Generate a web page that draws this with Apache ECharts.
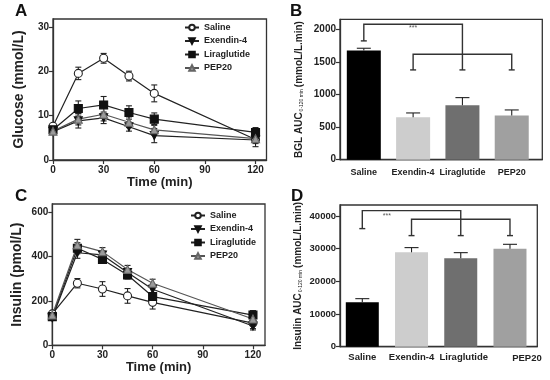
<!DOCTYPE html>
<html>
<head>
<meta charset="utf-8">
<script src="https://cdn.jsdelivr.net/npm/echarts@6/dist/echarts.min.js"></script>
<style>
html,body{margin:0;padding:0;background:#fff;}
#chart{width:550px;height:380px;}
</style>
</head>
<body>
<div id="chart"></div>
<script>
// ---------- DATA ----------
const times = [0, 15, 30, 45, 60, 120];
const timeTicks = [0, 30, 60, 90, 120];
const groups = ['Saline', 'Exendin-4', 'Liraglutide', 'PEP20'];

// Panel A: glucose (mmol/L)
const glucoseSaline = [7.6, 19.5, 22.9, 18.9, 15.0, 4.6];
const glucoseSalineErr = [0.6, 1.4, 1.1, 1.1, 1.9, 1.6];
const glucoseExendin = [6.4, 8.8, 9.5, 7.5, 5.5, 4.5];
const glucoseExendinErr = [0.5, 1.6, 1.3, 1.0, 1.6, 0.8];
const glucoseLira = [6.8, 11.6, 12.4, 10.7, 9.2, 6.2];
const glucoseLiraErr = [0.6, 1.7, 1.9, 1.5, 1.4, 1.1];
const glucosePep = [6.5, 9.2, 10.3, 8.5, 6.8, 4.8];
const glucosePepErr = [0.5, 1.3, 1.5, 1.2, 1.2, 0.8];
const glucoseTicks = [0, 10, 20, 30];

// Panel C: insulin (pmol/L)
const insulinSaline = [141, 279, 253, 222, 193, 100];
const insulinSalineErr = [10, 21, 33, 33, 30, 25];
const insulinExendin = [124, 416, 406, 327, 252, 87];
const insulinExendinErr = [10, 25, 18, 18, 18, 18];
const insulinLira = [129, 436, 386, 316, 219, 136];
const insulinLiraErr = [10, 25, 15, 18, 18, 20];
const insulinPep = [136, 451, 421, 341, 279, 118];
const insulinPepErr = [10, 25, 18, 18, 18, 18];
const insulinTicks = [0, 200, 400, 600];

// Panel B: BGL AUC 0-120 min
const bglAuc = [1674, 650, 834, 676];
const bglAucErr = [35, 67, 118, 87];
const bglTicks = [0, 500, 1000, 1500, 2000];
const sigB = [2078, 1822, 1617, 1377];   // top bracket, saline end, lower bracket, lower ends
const starB = [1, 2015];

// Panel D: insulin AUC 0-120 min
const insAuc = [13570, 28870, 27030, 29990];
const insAucErr = [1120, 1430, 1730, 1320];
const insTicks = [0, 10000, 20000, 30000, 40000];
const sigD = [41620, 36110, 38960, 33970];
const starD = [0.5, 39970];

// ---------- STYLE ----------
const FONT = 'Liberation Sans, Arial, Helvetica, sans-serif';
const INK = '#222';
const AX = '#333';
const barColors = ['#000000', '#cdcdcd', '#6f6f6f', '#a0a0a0'];
const downTri = 'path://M0,0L10,0L5,9Z';
const lineDefs = [
  {name: 'Saline', symbol: 'circle', size: 8, fill: '#ffffff', border: '#222', line: '#222'},
  {name: 'Exendin-4', symbol: downTri, size: 8, fill: '#111', border: '#111', line: '#222'},
  {name: 'Liraglutide', symbol: 'rect', size: 8, fill: '#111', border: '#111', line: '#222'},
  {name: 'PEP20', symbol: 'triangle', size: 8, fill: '#9a9a9a', border: '#666', line: '#555'}
];

function axisLineStyle() { return {show: true, onZero: false, lineStyle: {color: AX, width: 1.3}}; }

function errRender(capHalf, upOnly) {
  return function (params, api) {
    const x = api.value(0), lo = api.value(1), hi = api.value(2);
    const a = api.coord([x, lo]), b = api.coord([x, hi]);
    const st = {stroke: '#222', lineWidth: 1.1};
    const ch = [
      {type: 'line', shape: {x1: a[0], y1: a[1], x2: b[0], y2: b[1]}, style: st},
      {type: 'line', shape: {x1: b[0] - capHalf, y1: b[1], x2: b[0] + capHalf, y2: b[1]}, style: st}
    ];
    if (!upOnly) ch.push({type: 'line', shape: {x1: a[0] - capHalf, y1: a[1], x2: a[0] + capHalf, y2: a[1]}, style: st});
    return {type: 'group', children: ch};
  };
}

function bracketRender(sig, star) {
  return function (params, api) {
    const c = (x, y) => api.coord([x, y]);
    const st = {stroke: '#333', lineWidth: 1.4, fill: null};
    const top = sig[0], sEnd = sig[1], low = sig[2], lEnd = sig[3];
    const pl = (pts) => ({type: 'polyline', shape: {points: pts}, style: st});
    const cap = (p) => ({type: 'line', shape: {x1: p[0] - 3, y1: p[1], x2: p[0] + 3, y2: p[1]}, style: st});
    const s = c(star[0], star[1]);
    return {type: 'group', children: [
      pl([c(0, sEnd), c(0, top), c(2, top), c(2, lEnd)]),
      pl([c(1, lEnd), c(1, low), c(3, low), c(3, lEnd)]),
      cap(c(0, sEnd)), cap(c(1, lEnd)), cap(c(2, lEnd)), cap(c(3, lEnd)),
      {type: 'text', x: s[0], y: s[1], style: {text: '***', fill: '#555', font: '7px ' + FONT, align: 'center', verticalAlign: 'middle'}}
    ]};
  };
}

function lineSeries(def, vals, errs, axisIdx) {
  return [
    {
      type: 'custom', xAxisIndex: axisIdx, yAxisIndex: axisIdx, z: 2,
      renderItem: errRender(3, false), encode: {x: 0, y: [1, 2]}, silent: true,
      data: times.map((t, i) => [t, vals[i] - errs[i], vals[i] + errs[i]])
    },
    {
      type: 'line', name: def.name, xAxisIndex: axisIdx, yAxisIndex: axisIdx, z: 3,
      data: times.map((t, i) => [t, vals[i]]),
      symbol: def.symbol, symbolSize: def.size, showAllSymbol: true,
      lineStyle: {color: def.line, width: 1.2},
      itemStyle: {color: def.fill, borderColor: def.border, borderWidth: 1.1, opacity: 1},
      emphasis: {disabled: true}, animation: false
    }
  ];
}

function barSeries(vals, errs, axisIdx, sig, star, bw) {
  return [
    {
      type: 'bar', xAxisIndex: axisIdx, yAxisIndex: axisIdx, barWidth: bw, z: 2,
      data: vals.map((v, i) => ({value: [i, v], itemStyle: {color: barColors[i]}})),
      animation: false
    },
    {
      type: 'custom', xAxisIndex: axisIdx, yAxisIndex: axisIdx, z: 3,
      renderItem: errRender(7, true), encode: {x: 0, y: [1, 2]}, silent: true,
      data: vals.map((v, i) => [i, v, v + errs[i]])
    },
    {
      type: 'custom', xAxisIndex: axisIdx, yAxisIndex: axisIdx, z: 4,
      renderItem: bracketRender(sig, star), encode: {x: 0, y: 1}, silent: true,
      data: [[0, sig[0]]]
    }
  ];
}

function gridBox(l, t, w, h) {
  return {left: l, top: t, width: w, height: h, show: true, borderColor: AX, borderWidth: 1.3, backgroundColor: 'transparent'};
}

function timeAxis(idx, max, gap) {
  return {
    gridIndex: idx, type: 'value', min: 0, max: max,
    axisLine: axisLineStyle(),
    axisTick: {show: true, length: 4, customValues: timeTicks, lineStyle: {color: AX, width: 1.2}},
    axisLabel: {customValues: timeTicks, formatter: v => String(v), fontSize: 10, fontWeight: 'bold', color: INK, margin: 5, fontFamily: FONT},
    splitLine: {show: false},
    name: 'Time (min)', nameLocation: 'middle', nameGap: gap,
    nameTextStyle: {fontSize: 13, fontWeight: 'bold', color: INK, fontFamily: FONT}
  };
}

function valueAxis(idx, max, ticks, name, gap, nameStyle, labelSize) {
  return {
    gridIndex: idx, type: 'value', min: 0, max: max,
    axisLine: axisLineStyle(),
    axisTick: {show: true, length: 4, customValues: ticks, lineStyle: {color: AX, width: 1.2}},
    axisLabel: {customValues: ticks, formatter: v => String(v), fontSize: labelSize, fontWeight: 'bold', color: INK, margin: 4, fontFamily: FONT},
    splitLine: {show: false},
    name: name, nameLocation: 'middle', nameRotate: 90, nameGap: gap,
    nameTextStyle: nameStyle
  };
}

function catAxis(idx, min, max, size, margin, shiftLast) {
  return {
    gridIndex: idx, type: 'value', min: min, max: max,
    axisLine: axisLineStyle(),
    axisTick: {show: false},
    axisLabel: {customValues: [0, 1, 2, 3],
      formatter: v => {
        const i = Math.round(v);
        if (shiftLast && i === 3) return '{p|' + groups[i] + '}';
        if (shiftLast && i === 2) return '{q|' + groups[i] + '}';
        return groups[i];
      },
      rich: {
        p: {fontSize: size, fontWeight: 'bold', color: INK, fontFamily: FONT, padding: [1, 0, 0, 34]},
        q: {fontSize: size, fontWeight: 'bold', color: INK, fontFamily: FONT, padding: [0, 0, 0, 6]}
      },
      fontSize: size, fontWeight: 'bold', color: INK, margin: margin, fontFamily: FONT},
    splitLine: {show: false}
  };
}

const aucNameStyle = {
  fontFamily: FONT,
  rich: {
    m: {fontSize: 10, fontWeight: 'bold', color: INK, fontFamily: FONT},
    s: {fontSize: 5, color: INK, verticalAlign: 'bottom', fontFamily: FONT, padding: [0, 2, 0, 1]}
  }
};

const legendCommon = {
  orient: 'vertical', itemWidth: 14, itemHeight: 7, itemGap: 4.5, selectedMode: false, padding: 0,
  data: groups, textStyle: {fontSize: 9, fontWeight: 'bold', color: INK, fontFamily: FONT}
};

const option = {
  animation: false,
  textStyle: {fontFamily: FONT},
  grid: [
    gridBox(53, 19, 213.5, 141),
    gridBox(340, 19.3, 202.3, 140.4),
    gridBox(52.3, 204, 212.7, 141.3),
    gridBox(340, 205, 197.3, 141.7)
  ],
  xAxis: [
    timeAxis(0, 126.5, 16),
    catAxis(1, -0.483, 3.62, 9, 8, false),
    timeAxis(2, 127.2, 16),
    catAxis(3, -0.453, 3.555, 9.5, 6, true)
  ],
  yAxis: [
    valueAxis(0, 31.75, glucoseTicks, 'Glucose (mmol/L)', 27, {fontSize: 14, fontWeight: 'bold', color: INK, fontFamily: FONT}, 10),
    valueAxis(1, 2153, bglTicks, '{m|BGL AUC}{s|0-120 min}{m|(mmoL/L.min)}', 36, aucNameStyle, 10),
    valueAxis(2, 635, insulinTicks, 'Insulin (pmol/L)', 28, {fontSize: 14, fontWeight: 'bold', color: INK, fontFamily: FONT}, 10),
    valueAxis(3, 43330, insTicks, '{m|Insulin AUC}{s|0-120 min}{m|(mmoL/L.min)}', 37, aucNameStyle, 9.5)
  ],
  legend: [
    Object.assign({left: 184, top: 23}, legendCommon),
    Object.assign({left: 190, top: 211}, legendCommon)
  ],
  graphic: [
    {type: 'text', left: 15, top: 3, style: {text: 'A', font: 'bold 17px ' + FONT, fill: '#111'}},
    {type: 'text', left: 290, top: 3, style: {text: 'B', font: 'bold 17px ' + FONT, fill: '#111'}},
    {type: 'text', left: 15, top: 188, style: {text: 'C', font: 'bold 17px ' + FONT, fill: '#111'}},
    {type: 'text', left: 291, top: 188, style: {text: 'D', font: 'bold 17px ' + FONT, fill: '#111'}}
  ],
  series: [].concat(
    lineSeries(lineDefs[0], glucoseSaline, glucoseSalineErr, 0),
    lineSeries(lineDefs[1], glucoseExendin, glucoseExendinErr, 0),
    lineSeries(lineDefs[2], glucoseLira, glucoseLiraErr, 0),
    lineSeries(lineDefs[3], glucosePep, glucosePepErr, 0),
    lineSeries(lineDefs[0], insulinSaline, insulinSalineErr, 2),
    lineSeries(lineDefs[1], insulinExendin, insulinExendinErr, 2),
    lineSeries(lineDefs[2], insulinLira, insulinLiraErr, 2),
    lineSeries(lineDefs[3], insulinPep, insulinPepErr, 2),
    barSeries(bglAuc, bglAucErr, 1, sigB, starB, 34),
    barSeries(insAuc, insAucErr, 3, sigD, starD, 33)
  )
};

const chart = echarts.init(document.getElementById('chart'), null, {renderer: 'canvas'});
chart.setOption(option);
</script>
</body>
</html>
